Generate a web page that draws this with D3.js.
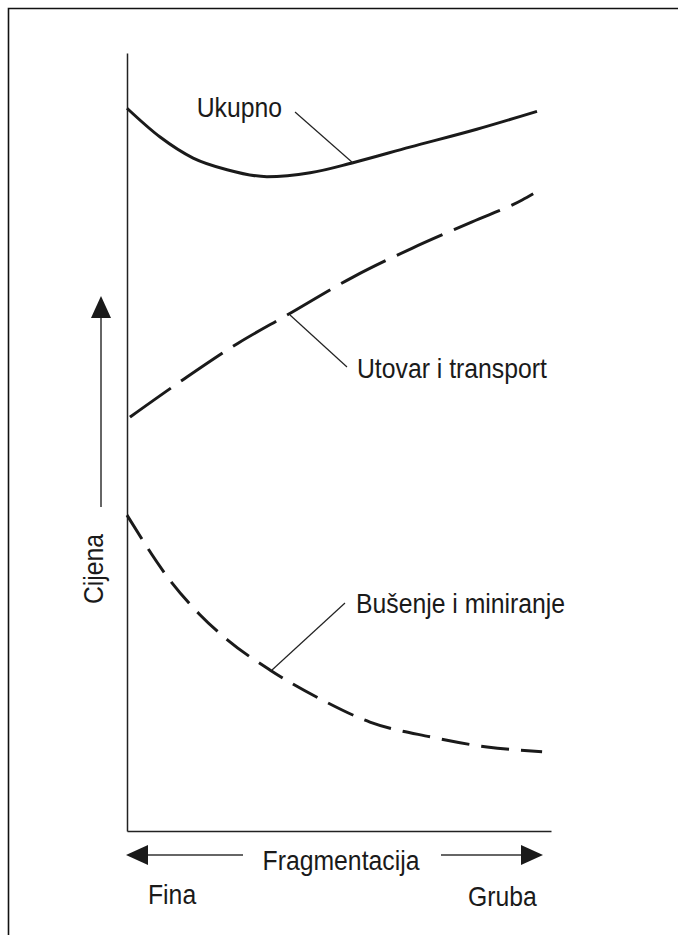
<!DOCTYPE html>
<html>
<head>
<meta charset="utf-8">
<script src="https://cdn.jsdelivr.net/npm/d3@7"></script>
<style>
  body { margin: 0; background: #fff; }
  text { font-family: "Liberation Sans", Arial, sans-serif; fill: #1a1a1a; }
</style>
</head>
<body>
<div id="chart-area"></div>
<script>
// fragmentation (0 = fina, 10 = gruba) vs cijena (0..100)
var ukupnoX = [0, 0.78, 1.56, 2.36, 3.3, 4.32, 5.33, 6.67, 8.25, 9.67];
var ukupnoY = [92.9, 89.2, 86.5, 85.0, 84.1, 84.6, 85.9, 87.9, 90.2, 92.5];

var utovarX = [0.07, 1.32, 2.62, 3.77, 5.33, 6.72, 8.14, 9.32, 9.58];
var utovarY = [53.2, 58.0, 62.7, 66.3, 71.2, 74.9, 78.3, 81.1, 81.9];

var busenjeX = [0, 1.06, 1.72, 2.36, 3.37, 4.62, 5.73, 7.15, 8.49, 9.79];
var busenjeY = [40.6, 31.9, 27.8, 24.6, 20.7, 16.8, 14.0, 12.1, 10.8, 10.2];

var labels = ["Ukupno", "Utovar i transport", "Bušenje i miniranje"];

var width = 678, height = 935;

var svg = d3.select("#chart-area").append("svg")
    .attr("width", width)
    .attr("height", height);

var x = d3.scaleLinear().domain([0, 10]).range([127, 551]);
var y = d3.scaleLinear().domain([0, 100]).range([831, 53]);

// frame (top + left only)
svg.append("path")
    .attr("d", "M8.5,935V8.5H678")
    .attr("fill", "none")
    .attr("stroke", "#111")
    .attr("stroke-width", 1.6);

// axes without ticks
svg.append("g")
    .attr("transform", "translate(0,831)")
    .call(d3.axisBottom(x).ticks(0).tickSize(0).tickSizeOuter(0))
    .select(".domain").attr("stroke", "#222").attr("stroke-width", 1.5);

svg.append("g")
    .attr("transform", "translate(127,0)")
    .call(d3.axisLeft(y).ticks(0).tickSize(0).tickSizeOuter(0))
    .select(".domain").attr("stroke", "#222").attr("stroke-width", 1.5);

var line = d3.line()
    .x(function(d) { return x(d[0]); })
    .y(function(d) { return y(d[1]); })
    .curve(d3.curveMonotoneX);

var series = [
  { name: labels[0], data: d3.zip(ukupnoX, ukupnoY), dash: null },
  { name: labels[1], data: d3.zip(utovarX, utovarY), dash: "50,12.5" },
  { name: labels[2], data: d3.zip(busenjeX, busenjeY), dash: "28,12" }
];

series.forEach(function(s) {
    svg.append("path")
        .attr("d", line(s.data))
        .attr("fill", "none")
        .attr("stroke", "#1a1a1a")
        .attr("stroke-width", 3)
        .attr("stroke-dasharray", s.dash);
});

// slightly condensed text like the scan
function label(txt, tx, ty, anchor, rot) {
    svg.append("text")
        .attr("transform", "translate(" + tx + "," + ty + ")" +
              (rot ? " rotate(" + rot + ")" : "") + " scale(0.9,1)")
        .attr("text-anchor", anchor || "start")
        .attr("font-size", 27.5)
        .text(txt);
}

// leader lines + labels
var notes = [
  { text: labels[0], x1: 295, y1: 112, x2: 353, y2: 163, tx: 282, ty: 117, anchor: "end" },
  { text: labels[1], x1: 290, y1: 315, x2: 347, y2: 367, tx: 357, ty: 378, anchor: "start" },
  { text: labels[2], x1: 272, y1: 670, x2: 345, y2: 603, tx: 356, ty: 613, anchor: "start" }
];

notes.forEach(function(n) {
    svg.append("line")
        .attr("x1", n.x1).attr("y1", n.y1)
        .attr("x2", n.x2).attr("y2", n.y2)
        .attr("stroke", "#222")
        .attr("stroke-width", 1.2);
    label(n.text, n.tx, n.ty, n.anchor);
});

// arrows
function arrow(x1, y1, x2, y2) {
    var a = Math.atan2(y2 - y1, x2 - x1), len = 22, hw = 10;
    var bx = x2 - len * Math.cos(a), by = y2 - len * Math.sin(a);
    svg.append("line")
        .attr("x1", x1).attr("y1", y1)
        .attr("x2", bx).attr("y2", by)
        .attr("stroke", "#333")
        .attr("stroke-width", 1.5);
    var px = -Math.sin(a) * hw, py = Math.cos(a) * hw;
    svg.append("path")
        .attr("d", "M" + x2 + "," + y2 + "L" + (bx + px) + "," + (by + py) +
              "L" + (bx - px) + "," + (by - py) + "Z")
        .attr("fill", "#1a1a1a");
}

arrow(101, 507, 101, 296);
arrow(243, 855, 126, 855);
arrow(441, 855, 543, 855);

label("Fragmentacija", 341, 870, "middle");
label("Fina", 148, 904);
label("Gruba", 468, 906);
label("Cijena", 103, 569, "middle", -90);
</script>
</body>
</html>
